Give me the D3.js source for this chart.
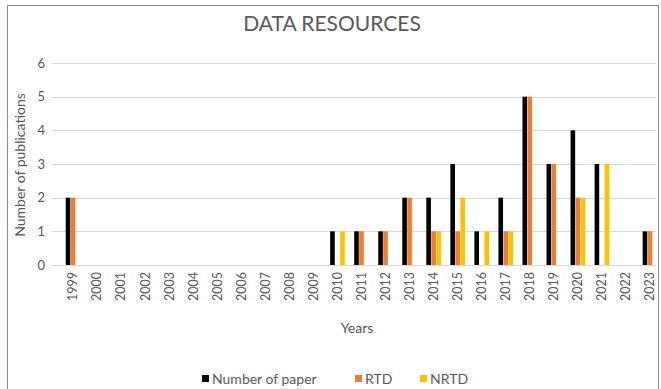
<!DOCTYPE html>
<html>
<head>
<meta charset="utf-8">
<script src="https://cdn.jsdelivr.net/npm/d3@7"></script>
<style>
  body { margin: 0; background: #fff; }
  svg { display: block; font-family: Lato, "Open Sans", sans-serif; }
</style>
</head>
<body>
<div id="chart"></div>
<script>
// categories and series
const years = ["1999", "2000", "2001", "2002", "2003", "2004", "2005", "2006", "2007", "2008", "2009",
  "2010", "2011", "2012", "2013", "2014", "2015", "2016", "2017", "2018", "2019", "2020", "2021", "2022", "2023"];
const numberOfPaper = [2, 0, 0, 0, 0, 0, 0, 0, 0, 0, 0, 1, 1, 1, 2, 2, 3, 1, 2, 5, 3, 4, 3, 0, 1];
const rtd = [2, 0, 0, 0, 0, 0, 0, 0, 0, 0, 0, 0, 1, 1, 2, 1, 1, 0, 1, 5, 3, 2, 0, 0, 1];
const nrtd = [0, 0, 0, 0, 0, 0, 0, 0, 0, 0, 0, 1, 0, 0, 0, 1, 2, 1, 1, 0, 0, 2, 3, 0, 0];
const seriesNames = ["Number of paper", "RTD", "NRTD"];
const yTicks = [0, 1, 2, 3, 4, 5, 6];

const colors = { "Number of paper": "#000000", "RTD": "#ED7D31", "NRTD": "#FFC000" };
const textColor = "#595959";

const W = 661, H = 389;
const svg = d3.select("#chart").append("svg")
  .attr("width", W)
  .attr("height", H);

// outer frame
svg.append("rect")
  .attr("x", 7.5).attr("y", 5.5)
  .attr("width", 651).attr("height", 390)
  .attr("fill", "#fff")
  .attr("stroke", "#8c8c8c")
  .attr("stroke-width", 1);

const x = d3.scaleBand()
  .domain(years)
  .range([61, 662])
  .padding(0);

const y = d3.scaleLinear()
  .domain([0, 6])
  .range([265, 63]);

const inner = d3.scaleBand()
  .domain(seriesNames)
  .range([-7.3, 7.3])
  .paddingInner(0.08);

// gridlines
svg.append("g")
  .selectAll("line")
  .data(yTicks)
  .enter()
  .append("line")
  .attr("x1", 52)
  .attr("x2", 656)
  .attr("y1", d => Math.round(y(d)) + 0.5)
  .attr("y2", d => Math.round(y(d)) + 0.5)
  .attr("stroke", "#d9d9d9")
  .attr("stroke-width", 1.2);

// y tick labels
svg.append("g")
  .selectAll("text")
  .data(yTicks)
  .enter()
  .append("text")
  .attr("x", 45)
  .attr("y", d => y(d))
  .attr("dy", "0.35em")
  .attr("text-anchor", "end")
  .attr("fill", textColor)
  .style("font-size", "13px")
  .text(d => d);

// bars
const rows = years.map((yr, i) => ({
  year: yr,
  values: [
    { name: "Number of paper", v: numberOfPaper[i] },
    { name: "RTD", v: rtd[i] },
    { name: "NRTD", v: nrtd[i] }
  ]
}));

const groups = svg.append("g")
  .selectAll("g")
  .data(rows)
  .enter()
  .append("g")
  .attr("transform", d => `translate(${x(d.year) + x.bandwidth() / 2},0)`);

groups.selectAll("rect")
  .data(d => d.values.filter(s => s.v > 0))
  .enter()
  .append("rect")
  .attr("x", d => inner(d.name))
  .attr("width", inner.bandwidth())
  .attr("y", d => y(d.v))
  .attr("height", d => y(0) - y(d.v))
  .attr("fill", d => colors[d.name]);

// x tick labels, rotated
svg.append("g")
  .selectAll("text")
  .data(years)
  .enter()
  .append("text")
  .attr("transform", d => `translate(${x(d) + x.bandwidth() / 2},272) rotate(-90)`)
  .attr("dy", "0.35em")
  .attr("text-anchor", "end")
  .attr("fill", textColor)
  .style("font-size", "12.5px")
  .text(d => d);

// title
svg.append("text")
  .attr("x", 332)
  .attr("y", 31)
  .attr("text-anchor", "middle")
  .attr("fill", textColor)
  .style("font-size", "21px")
  .text("DATA RESOURCES");

// axis titles
svg.append("text")
  .attr("x", 357)
  .attr("y", 333)
  .attr("text-anchor", "middle")
  .attr("fill", textColor)
  .style("font-size", "14px")
  .text("Years");

svg.append("text")
  .attr("transform", "translate(25,165) rotate(-90)")
  .attr("text-anchor", "middle")
  .attr("fill", textColor)
  .style("font-size", "14px")
  .text("Number of publications");

// legend
const legendX = [202, 355, 420];
const legend = svg.append("g")
  .selectAll("g")
  .data(seriesNames)
  .enter()
  .append("g")
  .attr("transform", (d, i) => `translate(${legendX[i]},375)`);

legend.append("rect")
  .attr("width", 7)
  .attr("height", 7)
  .attr("fill", d => colors[d]);

legend.append("text")
  .attr("x", 10)
  .attr("y", 4)
  .attr("dy", "0.35em")
  .attr("fill", textColor)
  .style("font-size", "14px")
  .text(d => d);
</script>
</body>
</html>
